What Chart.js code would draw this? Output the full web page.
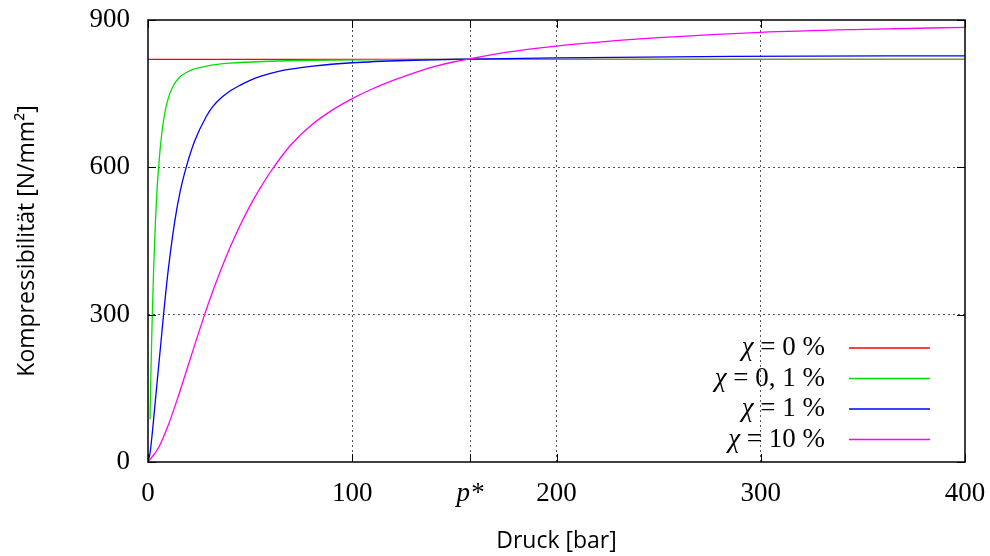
<!DOCTYPE html>
<html>
<head>
<meta charset="utf-8">
<script src="https://cdn.jsdelivr.net/npm/chart.js@4/dist/chart.umd.min.js"></script>
<style>
  html, body { margin: 0; padding: 0; background: #fff; }
  #wrap { width: 990px; height: 556px; }
</style>
</head>
<body>
<div id="wrap"><canvas id="kompChart" width="990" height="556"></canvas></div>
<script>
// Kompressibilität über Druck für verschiedene Gasanteile
const pStar = 157.7;
const xTicks = [0, 100, pStar, 200, 300, 400];
const yTicks = [0, 300, 600, 900];

const labels = ['χ = 0 %', 'χ = 0, 1 %', 'χ = 1 %', 'χ = 10 %'];
const colors = ['#ff0000', '#00e000', '#0000ff', '#ff00ff'];

const pRed = [0, 400];
const kRed = [820, 820];

const pGreen = [1.0, 1.25, 2.08, 2.72, 3.64, 4.39, 5.2, 6.33, 7.94, 10, 12.5, 15.3, 18.8, 22.4, 28.6, 40, 60, 80, 120, 160, 400];
const kGreen = [87, 150, 295, 387, 490, 552, 600, 653, 704, 742, 767, 783, 793, 800, 806, 812, 816, 818, 819.5, 820, 820];

const pBlue = [0, 1, 2, 3, 4.4, 6, 7.5, 9.8, 13.1, 15.8, 18.7, 22.8, 28.6, 32, 36, 40, 45, 50, 55, 64.4, 80.7, 100, 130, 157.7, 200, 286, 400];
const kBlue = [0, 18, 55, 98, 160, 229, 295, 387, 490, 552, 600, 653, 704, 725, 742, 755, 767, 777, 785, 796, 806, 813, 818, 820.5, 823, 826, 827];

const pMagenta = [0, 5, 10, 15, 20, 25, 27.7, 30, 35, 40, 45, 50, 55, 60, 65, 70, 80, 90, 100, 110, 120, 130, 140, 150, 157.7, 175, 200, 250, 300, 350, 400];
const kMagenta = [0, 28, 76, 136, 201, 266, 300, 328, 384, 435, 481, 522, 558, 591, 620, 646, 686, 716, 740, 760, 777, 792, 805, 815, 821, 834, 847, 864, 875, 881, 885];

function toPoints(xs, ys) {
  return xs.map((x, i) => ({ x: x, y: ys[i] }));
}

const serif = '"Liberation Serif", "DejaVu Serif", serif';
const sans = '"Open Sans", "DejaVu Sans", sans-serif';

// Rahmen, innere Ticks und Legende wie im Original
const framePlugin = {
  id: 'frame',
  afterDatasetsDraw(chart) {
    const ctx = chart.ctx;
    const a = chart.chartArea;
    const xs = chart.scales.x, ys = chart.scales.y;
    ctx.save();
    ctx.strokeStyle = '#000';
    ctx.lineWidth = 1.5;
    ctx.strokeRect(a.left, a.top, a.right - a.left, a.bottom - a.top);
    ctx.lineWidth = 1;
    ctx.beginPath();
    xTicks.forEach(v => {
      const px = Math.round(xs.getPixelForValue(v)) + 0.5;
      ctx.moveTo(px, a.bottom); ctx.lineTo(px, a.bottom - 8);
      ctx.moveTo(px, a.top); ctx.lineTo(px, a.top + 8);
    });
    yTicks.forEach(v => {
      const py = Math.round(ys.getPixelForValue(v)) + 0.5;
      ctx.moveTo(a.left, py); ctx.lineTo(a.left + 8, py);
      ctx.moveTo(a.right, py); ctx.lineTo(a.right - 8, py);
    });
    ctx.stroke();

    // Legende unten rechts
    const textRight = 825, lineX0 = 849, lineX1 = 930;
    const rowY = [348, 378.5, 409, 439.5];
    ctx.textBaseline = 'middle';
    chart.data.datasets.forEach((ds, i) => {
      const rest = ds.label.slice(1);
      ctx.font = '27px ' + serif;
      ctx.textAlign = 'right';
      ctx.fillStyle = '#000';
      ctx.fillText(rest, textRight, rowY[i]);
      const w = ctx.measureText(rest).width;
      ctx.font = 'italic 27px ' + serif;
      ctx.fillText(ds.label[0], textRight - w, rowY[i]);
      ctx.strokeStyle = ds.borderColor;
      ctx.lineWidth = 1.3;
      ctx.beginPath();
      ctx.moveTo(lineX0, rowY[i]);
      ctx.lineTo(lineX1, rowY[i]);
      ctx.stroke();
    });
    ctx.restore();
  }
};

const series = [
  [pRed, kRed],
  [pGreen, kGreen],
  [pBlue, kBlue],
  [pMagenta, kMagenta]
];

new Chart(document.getElementById('kompChart'), {
  type: 'line',
  data: {
    datasets: series.map((s, i) => ({
      label: labels[i],
      data: toPoints(s[0], s[1]),
      borderColor: colors[i],
      backgroundColor: colors[i],
      borderWidth: 1.3,
      pointRadius: 0,
      fill: false,
      cubicInterpolationMode: 'monotone',
      order: 4 - i
    }))
  },
  options: {
    responsive: false,
    animation: false,
    layout: { padding: { left: 0, top: 20, right: 25, bottom: 0 } },
    plugins: {
      legend: { display: false },
      tooltip: { enabled: false }
    },
    scales: {
      x: {
        type: 'linear',
        min: 0,
        max: 400,
        afterBuildTicks: scale => { scale.ticks = xTicks.map(v => ({ value: v })); },
        afterFit: scale => {
          scale.height = 94;
          scale.paddingLeft = 0;
          scale.paddingRight = 0;
        },
        ticks: {
          padding: 16,
          color: '#000',
          maxRotation: 0,
          autoSkip: false,
          font: ctx => ({
            family: serif,
            size: 27,
            style: (ctx.tick && ctx.tick.value === pStar) ? 'italic' : 'normal'
          }),
          callback: v => (v === pStar ? 'p*' : v)
        },
        grid: {
          drawTicks: false,
          color: ctx => (ctx.tick && (ctx.tick.value === 0 || ctx.tick.value === 400)) ? 'rgba(0,0,0,0)' : '#555',
          lineWidth: 1
        },
        border: { display: false, dash: [2, 3] },
        title: {
          display: true,
          text: 'Druck [bar]',
          color: '#000',
          font: { family: sans, size: 23 },
          padding: { top: 0, bottom: 1 }
        }
      },
      y: {
        min: 0,
        max: 900,
        afterBuildTicks: scale => { scale.ticks = yTicks.map(v => ({ value: v })); },
        afterFit: scale => {
          scale.width = 148;
          scale.paddingTop = 0;
          scale.paddingBottom = 0;
        },
        ticks: {
          padding: 18,
          color: '#000',
          font: { family: serif, size: 27 }
        },
        grid: {
          drawTicks: false,
          color: ctx => (ctx.tick && (ctx.tick.value === 0 || ctx.tick.value === 900)) ? 'rgba(0,0,0,0)' : '#555',
          lineWidth: 1
        },
        border: { display: false, dash: [2, 3] },
        title: {
          display: true,
          text: 'Kompressibilität [N/mm²]',
          color: '#000',
          font: { family: sans, size: 23 },
          padding: { top: 14, bottom: 0 }
        }
      }
    }
  },
  plugins: [framePlugin]
});
</script>
</body>
</html>
